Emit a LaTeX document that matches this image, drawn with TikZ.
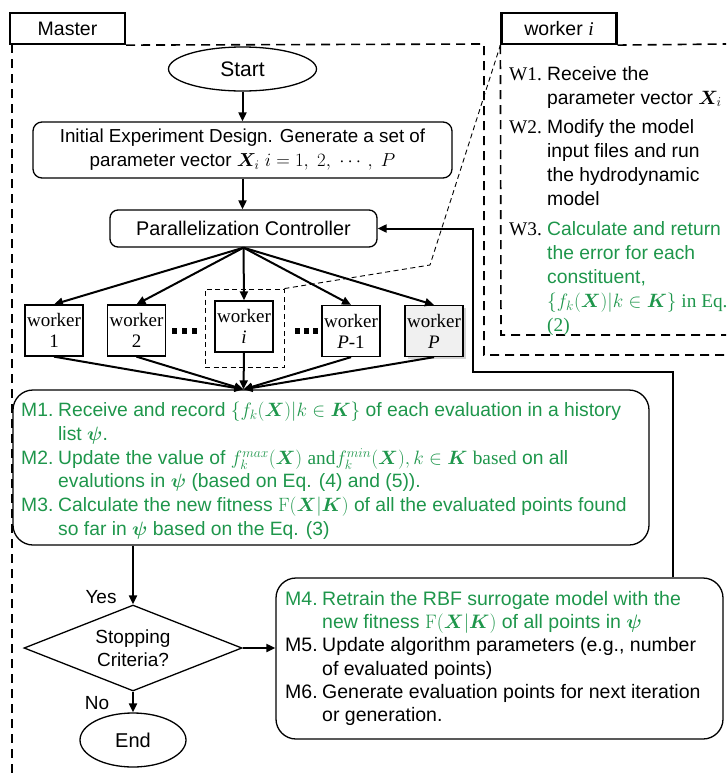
\RequirePackage{fix-cm}
\documentclass[tikz,border=0pt]{standalone}
\usepackage[no-math]{fontspec}
\usepackage{amsmath,bm}
\setmainfont{Liberation Sans}
\newfontfamily\tnr{Liberation Serif}
\usetikzlibrary{shapes.geometric,arrows.meta,shadows}
\definecolor{mgreen}{RGB}{30,150,75}
\tikzset{
  tab/.style={draw, line width=2.2pt, minimum width=115pt, minimum height=31pt, inner sep=0pt, font=\fontsize{19.5}{22}\selectfont},
  dashborder/.style={line width=1.6pt, dash pattern=on 9pt off 6pt},
  thindash/.style={line width=0.9pt, dash pattern=on 5pt off 3.5pt},
  conn/.style={line width=2pt, -{Triangle[length=9pt,width=8pt]}},
  rbox/.style={draw, line width=1.3pt, rounded corners=9pt, inner sep=0pt, align=center, font=\fontsize{19.8}{24}\selectfont},
  bigbox/.style={draw, line width=1.3pt, rounded corners=20pt, inner sep=0pt},
  oval/.style={ellipse, draw, line width=1.3pt, inner sep=0pt},
  wbox/.style={draw, line width=1.3pt, minimum width=58pt, minimum height=51pt, inner sep=0pt, align=center, font=\tnr\fontsize{19}{21}\selectfont},
  itemtext/.style={anchor=north west, inner sep=0pt, align=left, font=\fontsize{19.3}{23.7}\selectfont},
  lbl/.style={inner sep=0pt, font=\fontsize{19}{22}\selectfont},
  dotsq/.style={fill=black}
}
\begin{document}
\begin{tikzpicture}[x=1pt,y=-1pt]
\useasboundingbox (0,0) rectangle (726,774);
% tabs
\node[tab] (master) at (67.5,28.5) {Master};
\node[tab] (wtab) at (559,28.5) {worker {\tnr\itshape i}};
% dashed region borders
\draw[dashborder] (master.south east) -- (484,44) -- (484,355) -- (726,355);
\draw[dashborder] (12,44) -- (12,774);
\draw[dashborder] (wtab.south east) -- (726,44);
\draw[dashborder] (wtab.south west) -- (501,335) -- (726,335);
% worker panel text
\node[itemtext, font=\fontsize{19.3}{23.9}\selectfont] (wtext) at (509,66) {%
\makebox[38pt][l]{\tnr W1.}Receive the\\
\hspace*{38pt}parameter vector $\bm X_i$\\[6pt]
\makebox[38pt][l]{\tnr W2.}Modify the model\\
\hspace*{38pt}input files and run\\
\hspace*{38pt}the hydrodynamic\\
\hspace*{38pt}model\\[6pt]
\makebox[38pt][l]{\tnr W3.}\textcolor{mgreen}{Calculate and return}\\
\hspace*{38pt}\textcolor{mgreen}{the error for each}\\
\hspace*{38pt}\textcolor{mgreen}{constituent,}\\
\hspace*{38pt}\textcolor{mgreen}{\tnr $\{f_k(\bm X)|k\in\bm K\}$ in Eq.}\\
\hspace*{38pt}\textcolor{mgreen}{\tnr (2)}};
% start and initial design
\node[oval, minimum width=148pt, minimum height=44pt, font=\fontsize{21}{24}\selectfont] (start) at (242.5,69) {Start};
\node[rbox, minimum width=419pt, minimum height=56pt, font=\fontsize{18.8}{24}\selectfont] (init) at (242.5,150) {Initial Experiment Design. Generate a set of\\parameter vector $\bm X_i$ $i=1,\ 2,\ \cdots,\ P$};
\node[rbox, rounded corners=8pt, minimum width=267pt, minimum height=37pt] (pc) at (243.5,228.5) {Parallelization Controller};
\draw[conn] (start.south -| init.north) -- (init.north);
\draw[conn] (init.south) -- (init.south |- pc.north);
% workers
\node[wbox] (w1) at (54,330.5) {worker\\1};
\node[wbox] (w2) at (136.5,330.5) {worker\\2};
\node[wbox] (wi) at (244,326.5) {worker\\{\itshape i}};
\node[wbox] (wp1) at (351,331) {worker\\{\itshape P}-1};
\node[wbox, fill=gray!12, drop shadow={shadow xshift=2.5pt, shadow yshift=-2.5pt, opacity=0.35, fill=gray}] (wp) at (434,331) {worker\\{\itshape P}};
\node[draw, thindash, minimum width=79pt, minimum height=78pt, inner sep=0pt] (wibox) at (244.5,328) {};
\coordinate (zbend) at (430,265);
\draw[thindash] (wibox.north east) -- (zbend) -- (wtab.south west);
% dots
\fill[dotsq] (172,328) rectangle (177,334);
\fill[dotsq] (182,328) rectangle (187,334);
\fill[dotsq] (192,328) rectangle (197,334);
\fill[dotsq] (295,328) rectangle (300,334);
\fill[dotsq] (304,328) rectangle (309,334);
\fill[dotsq] (313,328) rectangle (318,334);
% controller to workers
\draw[conn] (pc.south) -- (w1.north);
\draw[conn] (pc.south) -- (w2.north);
\draw[conn] (pc.south) -- (wi.north);
\draw[conn] (pc.south) -- (wp1.north);
\draw[conn] (pc.south) -- (wp.north);
% M1-M3 box
\node[bigbox, minimum width=636pt, minimum height=155pt] (mbox) at (331,467.5) {};
\coordinate (mtop) at (mbox.north -| pc.south);
\draw[conn] (w1.south) -- (mtop);
\draw[conn] (w2.south) -- (mtop);
\draw[conn] (wi.south) -- (mtop);
\draw[conn] (wp1.south) -- (mtop);
\draw[conn] (wp.south) -- (mtop);
\node[itemtext, text=mgreen] (mtext) at (21,402) {%
\makebox[37pt][l]{M1.}Receive and record $\{f_k(\bm X)|k\in\bm K\}$ of each evaluation in a history\\
\hspace*{37pt}list $\bm\psi$.\\
\makebox[37pt][l]{M2.}Update the value of $f_k^{max}(\bm X)$ {\tnr and}$f_k^{min}(\bm X), k\in\bm K$ {\tnr based} on all\\
\hspace*{37pt}evalutions in $\bm\psi$ (based on Eq. (4) and (5)).\\
\makebox[37pt][l]{M3.}Calculate the new fitness $\mathrm{F}(\bm X|\bm K)$ of all the evaluated points found\\
\hspace*{37pt}so far in $\bm\psi$ based on the Eq. (3)};
% decision
\node[diamond, draw, line width=1.3pt, aspect=2.5, minimum width=218pt, minimum height=86pt, inner sep=0pt, align=center, font=\fontsize{19}{23}\selectfont] (dia) at (133,648) {Stopping\\Criteria?};
\node[oval, minimum width=106pt, minimum height=54pt, font=\fontsize{20}{24}\selectfont] (end) at (133,740) {End};
\draw[conn] (mbox.south -| dia.north) -- (dia.north);
\draw[conn] (dia.south) -- (end.north);
\node[lbl] (yes) at (101,597) {Yes};
\node[lbl] (no) at (97,703) {No};
% M4-M6 box
\node[bigbox, minimum width=447pt, minimum height=161pt] (m4box) at (499.5,658.5) {};
\draw[conn] (dia.east) -- (dia.east -| m4box.west);
\node[itemtext, font=\fontsize{19.5}{23.3}\selectfont] (m4text) at (285,591) {%
\makebox[37pt][l]{\textcolor{mgreen}{M4.}}\textcolor{mgreen}{Retrain the RBF surrogate model with the}\\
\hspace*{37pt}\textcolor{mgreen}{new fitness $\mathrm{F}(\bm X|\bm K)$ of all points in $\bm\psi$}\\
\makebox[37pt][l]{M5.}Update algorithm parameters (e.g., number\\
\hspace*{37pt}of evaluated points)\\
\makebox[37pt][l]{M6.}Generate evaluation points for next iteration\\
\hspace*{37pt}or generation.};
% feedback loop
\coordinate (fbA) at (673,372);
\coordinate (fbB) at (473,372);
\draw[conn] (fbA |- m4box.north) -- (fbA) -- (fbB) -- (fbB |- pc.east) -- (pc.east);
\end{tikzpicture}
\end{document}
